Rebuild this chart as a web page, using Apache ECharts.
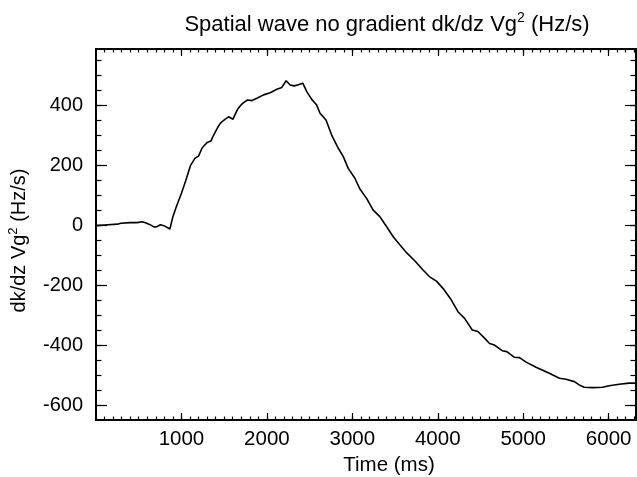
<!DOCTYPE html>
<html>
<head>
<meta charset="utf-8">
<script src="https://cdn.jsdelivr.net/npm/echarts@6/dist/echarts.min.js"></script>
<style>html,body{margin:0;padding:0;background:#fff}#c{width:637px;height:477px}</style>
</head>
<body>
<div id="c"></div>
<script>
// Time (ms)
var timeMs = [0, 100, 250, 290, 400, 480, 540, 580, 620, 685, 715, 755, 795, 865, 900, 940, 1000, 1050, 1105, 1160, 1200, 1240, 1270, 1300, 1345, 1370, 1397, 1430, 1455, 1480, 1513, 1552, 1575, 1603, 1630, 1657, 1690, 1727, 1774, 1825, 1883, 1961, 2039, 2117, 2175, 2225, 2272, 2319, 2369, 2420, 2467, 2525, 2583, 2622, 2692, 2758, 2836, 2894, 2952, 3030, 3089, 3167, 3244, 3322, 3400, 3478, 3556, 3634, 3730, 3828, 3906, 3984, 4061, 4159, 4236, 4314, 4404, 4469, 4547, 4606, 4664, 4754, 4808, 4897, 4956, 5034, 5150, 5306, 5423, 5501, 5598, 5656, 5714, 5811, 5928, 6006, 6123, 6239, 6317];
// dk/dz Vg^2 (Hz/s)
var dkdzVg2 = [0, 2, 5, 8, 10, 10, 13, 10, 5, -5, -3, 3, 0, -11, 30, 63, 108, 150, 200, 225, 232, 258, 268, 277, 282, 298, 313, 330, 341, 348, 355, 363, 358, 355, 372, 388, 400, 410, 419, 417, 425, 436, 443, 455, 461, 483, 469, 466, 470, 475, 447, 421, 402, 375, 352, 302, 258, 230, 191, 158, 122, 91, 52, 30, -3, -37, -64, -90, -117, -148, -171, -185, -209, -248, -287, -309, -348, -353, -375, -393, -398, -417, -420, -439, -440, -455, -472, -492, -509, -512, -520, -531, -539, -540, -539, -534, -529, -525, -525];

var xMajorTicks = [1000, 2000, 3000, 4000, 5000, 6000];
var yMajorTicks = [-600, -400, -200, 0, 200, 400];
var xMinorStep = 100;
var yMinorStep = 50;

var X_MIN = 0, X_MAX = 6320, Y_MIN = -648, Y_MAX = 589;

var xMinorTicks = [];
for (var v = xMinorStep; v < X_MAX; v += xMinorStep) xMinorTicks.push(v);
var yMinorTicks = [];
for (var w = -600; w < Y_MAX; w += yMinorStep) yMinorTicks.push(w);

var seriesData = timeMs.map(function (t, i) { return [t, dkdzVg2[i]]; });

var FONT = 'Liberation Sans, Arial, Helvetica, sans-serif';
var lineStyle = { color: '#000', width: 2 };
function plain(val) { return String(val); }

function xAx(pos, ticks, len, labels, extra) {
  var o = {
    type: 'value', min: X_MIN, max: X_MAX, position: pos,
    axisLine: { show: true, onZero: false, lineStyle: lineStyle },
    axisTick: { show: true, inside: true, length: len, customValues: ticks, lineStyle: { color: '#000', width: 1.2 } },
    axisLabel: labels ? { show: true, customValues: ticks, formatter: plain, fontSize: 20.5, color: '#000', fontFamily: FONT, margin: 9 } : { show: false },
    splitLine: { show: false }
  };
  if (extra) for (var k in extra) o[k] = extra[k];
  return o;
}
function yAx(pos, ticks, len, labels, extra) {
  var o = {
    type: 'value', min: Y_MIN, max: Y_MAX, position: pos,
    axisLine: { show: true, onZero: false, lineStyle: lineStyle },
    axisTick: { show: true, inside: true, length: len, customValues: ticks, lineStyle: { color: '#000', width: 1.2 } },
    axisLabel: labels ? { show: true, customValues: ticks, formatter: plain, fontSize: 20, color: '#000', fontFamily: FONT, margin: 13 } : { show: false },
    splitLine: { show: false }
  };
  if (extra) for (var k in extra) o[k] = extra[k];
  return o;
}

var chart = echarts.init(document.getElementById('c'), null, { renderer: 'canvas' });
chart.setOption({
  backgroundColor: '#fff',
  animation: false,
  title: {
    text: 'Spatial wave no gradient dk/dz Vg{sup|2} (Hz/s)',
    left: 382, top: 6, textAlign: 'center',
    textStyle: {
      fontSize: 22, fontWeight: 'normal', color: '#000', fontFamily: FONT, lineHeight: 27,
      rich: { sup: { fontSize: 14, color: '#000', fontFamily: FONT, verticalAlign: 'top', lineHeight: 14 } }
    }
  },
  grid: { left: 96, right: 1, top: 49, bottom: 57, containLabel: false, outerBoundsMode: 'none' },
  xAxis: [
    xAx('bottom', xMajorTicks, 7, true, {
      name: 'Time (ms)', nameLocation: 'middle', nameGap: 29,
      nameTextStyle: { fontSize: 20.5, color: '#000', fontFamily: FONT, padding: [0, 0, 0, 46] }
    }),
    xAx('bottom', xMinorTicks, 3.5, false),
    xAx('top', xMajorTicks, 7, false),
    xAx('top', xMinorTicks, 3.5, false)
  ],
  yAxis: [
    yAx('left', yMajorTicks, 11, true, {
      name: 'dk/dz Vg{sup|2} (Hz/s)', nameLocation: 'middle', nameGap: 61, nameRotate: 90,
      nameTextStyle: {
        fontSize: 20, color: '#000', fontFamily: FONT, lineHeight: 25,
        padding: [0, 12, 0, 0],
        rich: { sup: { fontSize: 13, color: '#000', fontFamily: FONT, verticalAlign: 'top', lineHeight: 13 } }
      }
    }),
    yAx('left', yMinorTicks, 5.5, false),
    yAx('right', yMajorTicks, 11, false),
    yAx('right', yMinorTicks, 5.5, false)
  ],
  series: [{
    type: 'line', xAxisIndex: 0, yAxisIndex: 0,
    data: seriesData, showSymbol: false, symbol: 'none',
    lineStyle: { color: '#000', width: 1.6 }, smooth: false
  }]
});
</script>
</body>
</html>
